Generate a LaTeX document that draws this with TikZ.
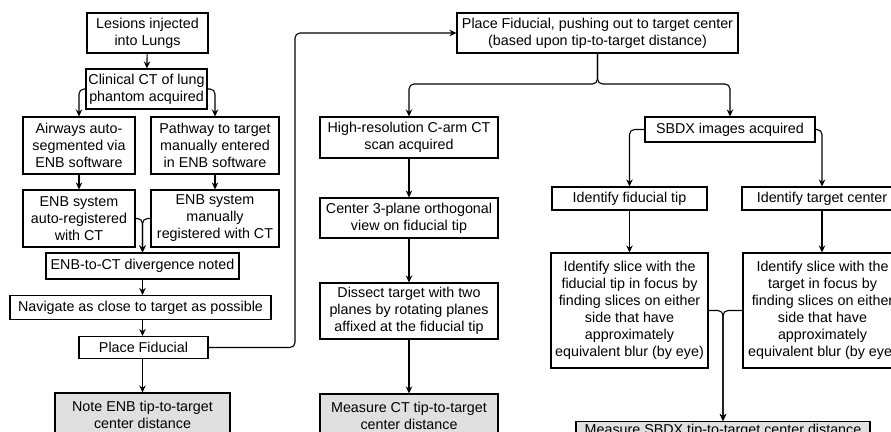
\documentclass[tikz,border=0pt]{standalone}
\usepackage{fontspec}
\setmainfont{Liberation Sans}
\usetikzlibrary{arrows.meta}
\begin{document}
\begin{tikzpicture}[x=1pt,y=-1pt,
  box/.style={draw, line width=1.1pt, align=center, inner sep=0pt, font=\fontsize{14.3}{17}\selectfont},
  greybox/.style={box, fill=black!12},
  arr/.style={-{Stealth[length=7pt,width=6.5pt]}, line width=1.1pt, rounded corners=5pt}]
\useasboundingbox (0,0) rectangle (891,431);
\clip (0,0) rectangle (891,431);
% left column
\node[box, minimum width=121pt, minimum height=40pt] (b1) at (147.5,33) {Lesions injected\\into Lungs};
\node[box, minimum width=121pt, minimum height=40pt] (b2) at (146.5,89) {Clinical CT of lung\\phantom acquired};
\node[box, minimum width=112pt, minimum height=57pt] (b3) at (79,145.5) {Airways auto-\\segmented via\\ENB software};
\node[box, minimum width=128pt, minimum height=57pt] (b4) at (215,145.5) {Pathway to target\\manually entered\\in ENB software};
\node[box, minimum width=112pt, minimum height=57pt] (b5) at (79,218.5) {ENB system\\auto-registered\\with CT};
\node[box, minimum width=128pt, minimum height=57pt] (b6) at (215,218.5) {ENB system\\manually\\registered with CT};
\node[box, minimum width=193pt, minimum height=26pt] (b7) at (142.5,266) {ENB-to-CT divergence noted};
\node[box, minimum width=261pt, minimum height=24pt] (b8) at (140.5,307.5) {Navigate as close to target as possible};
\node[box, minimum width=129pt, minimum height=22pt] (b9) at (143.5,347.5) {Place Fiducial};
\node[greybox, minimum width=175pt, minimum height=44pt] (b10) at (142.5,415) {Note ENB tip-to-target\\center distance};
% middle column
\node[box, minimum width=281pt, minimum height=40pt] (b11) at (597.5,33) {Place Fiducial, pushing out to target center\\(based upon tip-to-target distance)};
\node[box, minimum width=178pt, minimum height=41pt] (b12) at (409,137.5) {High-resolution C-arm CT\\scan acquired};
\node[box, minimum width=178pt, minimum height=40pt] (b13) at (409,218) {Center 3-plane orthogonal\\view on fiducial tip};
\node[box, minimum width=178pt, minimum height=56pt] (b14) at (409,311) {Dissect target with two\\planes by rotating planes\\affixed at the fiducial tip};
\node[greybox, minimum width=178pt, minimum height=44pt] (b15) at (409,416) {Measure CT tip-to-target\\center distance};
% right column
\node[box, minimum width=170pt, minimum height=25pt] (b16) at (730,129.5) {SBDX images acquired};
\node[box, minimum width=155pt, minimum height=23pt] (b17) at (629.5,198.5) {Identify fiducial tip};
\node[box, minimum width=160pt, minimum height=23pt] (b18) at (822,198.5) {Identify target center};
\node[box, minimum width=157pt, minimum height=115pt] (b19) at (629.5,310.5) {Identify slice with the\\fiducial tip in focus by\\finding slices on either\\side that have\\approximately\\equivalent blur (by eye)};
\node[box, minimum width=159pt, minimum height=115pt] (b20) at (822.5,310.5) {Identify slice with the\\target in focus by\\finding slices on either\\side that have\\approximately\\equivalent blur (by eye)};
\node[greybox, minimum width=294pt, minimum height=19pt] (b21) at (723,431) {Measure SBDX tip-to-target center distance};
% helper coordinates
\coordinate (turn) at (295,33);
\coordinate (split) at (597.5,84);
% connectors
\draw[arr] (b1) -- (b2);
\draw[arr] (b2.west) -| (b3.north);
\draw[arr] (b2.east) -| (b4.north);
\draw[arr] (b3) -- (b5);
\draw[arr] (b4) -- (b6);
\draw[arr] (b5.east) -| (b7.north);
\draw[arr] (b6.west) -| (b7.north);
\draw[arr] (b7.south) -- (b7.south |- b8.north);
\draw[arr] (b7.south |- b8.south) -- (b7.south |- b9.north);
\draw[arr] (b7.south |- b9.south) -- (b7.south |- b10.north);
\draw[arr] (b9.east) -| (turn) -- (b11.west);
\draw[arr] (b11.south) -- (split) -| (b12.north);
\draw[arr] (b11.south) -- (split) -| (b16.north);
\draw[arr] (b12) -- (b13);
\draw[arr] (b13) -- (b14);
\draw[arr] (b14) -- (b15);
\draw[arr] (b16.west) -| (b17.north);
\draw[arr] (b16.east) -| (b18.north);
\draw[arr] (b17) -- (b19);
\draw[arr] (b18.south) -- (b18.south |- b20.north);
\draw[arr] (b19.east) -| (b21.north);
\draw[arr] (b20.west) -| (b21.north);
\end{tikzpicture}
\end{document}
